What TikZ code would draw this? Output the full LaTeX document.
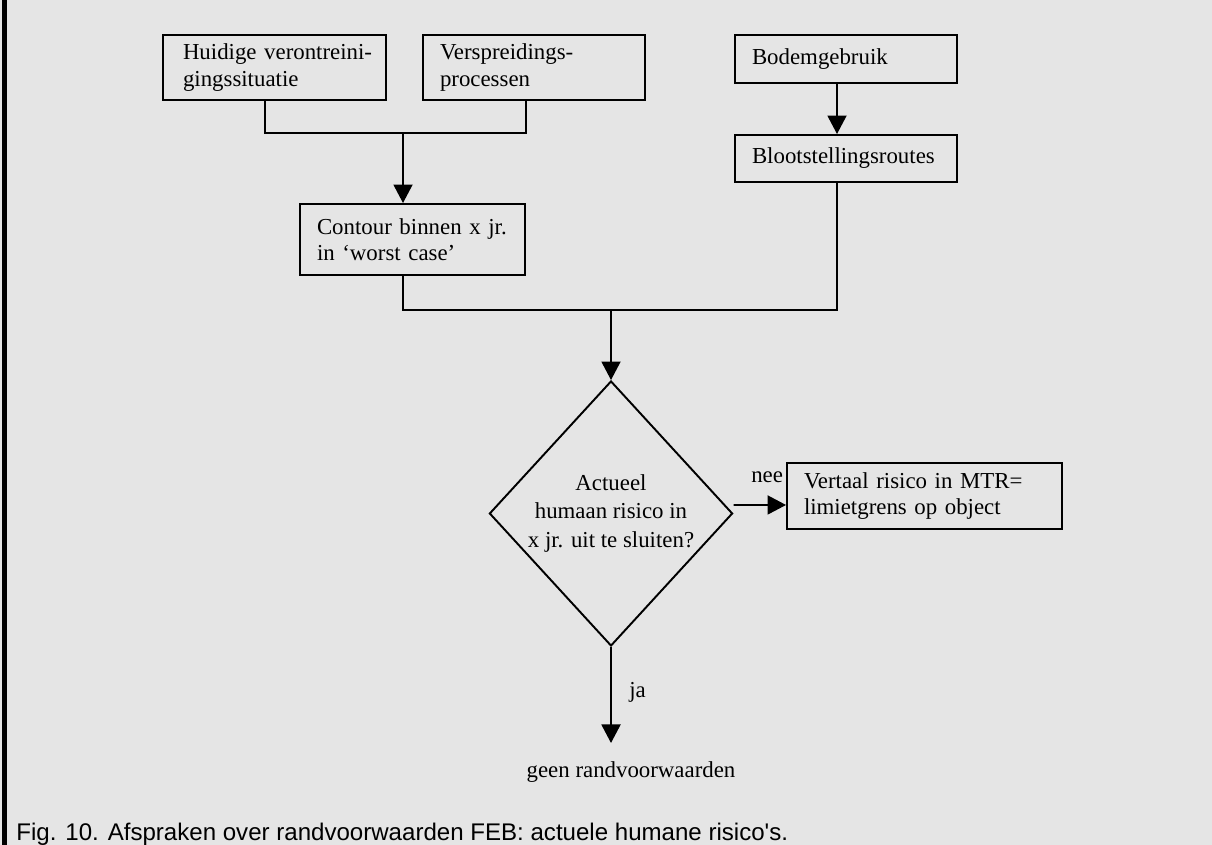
\documentclass[tikz,border=0pt]{standalone}
\usepackage{fontspec}
\setmainfont{Liberation Serif}
\newfontfamily\capfont{Liberation Sans}
\usepackage{tikz}
\usetikzlibrary{arrows.meta,shapes.geometric,calc}

\newcommand\boxfont{\fontsize{13}{15}\selectfont}
\newcommand\diafont{\fontsize{13}{16}\selectfont}

\tikzset{
  stap/.style={draw, line width=1.1pt, text width=#1, align=left, inner xsep=0.34cm, inner ysep=0pt, font=\boxfont},
  stap/.default=3.76cm,
  keuze/.style={draw, shape=diamond, line width=1.1pt, minimum width=4.86cm, minimum height=5.3cm, inner sep=0pt, align=center, font=\diafont},
  lijn/.style={line width=1.1pt},
  pijl/.style={line width=1.1pt, -{Triangle[width=0.38cm,length=0.37cm]}},
}

\begin{document}
\begin{tikzpicture}

\fill[black!10] (0,0) rectangle (24.24,16.9);
\useasboundingbox (0,0) rectangle (24.24,16.9);
\fill[black] (0.04,0) rectangle (0.13,16.9); % linker rand

\node[stap=4.06cm, inner xsep=0.2cm, minimum height=1.3cm] (hui) at (5.49,15.55) {\hspace*{0.2cm}Huidige verontreini-\\\hspace*{0.2cm}gingssituatie};
\node[stap, minimum height=1.3cm] (vsp) at (10.68,15.55) {Verspreidings-\\processen};
\node[stap, minimum height=0.96cm] (bod) at (16.92,15.72) {Bodemgebruik};
\node[stap, minimum height=0.94cm] (bls) at (16.92,13.73) {Blootstellingsroutes};
\node[stap=3.82cm, minimum height=1.42cm] (con) at (8.25,12.11) {Contour binnen x jr.\\in ‘worst case’};
\node[keuze] (dia) at (12.22,6.63) {Actueel\\humaan risico in\\x jr. uit te sluiten?};
\node[stap=4.82cm, minimum height=1.32cm] (vrt) at (18.49,6.98) {Vertaal risico in MTR=\\limietgrens op object};
\node[anchor=base, font=\boxfont] (geen) at (12.62,1.34) {geen randvoorwaarden};

\coordinate (samen) at (8.06,14.24);
\coordinate (samen2) at (12.22,10.7);
\coordinate (jaeind) at (12.22,2.04);

\draw[lijn] ([xshift=-0.19cm]hui.south) |- (samen) -| ([xshift=-0.16cm]vsp.south);
\draw[pijl] (samen) -- ([xshift=-0.19cm]con.north);
\draw[pijl] ([xshift=-0.18cm]bod.south) -- ([xshift=-0.18cm]bls.north);

\draw[lijn] ([xshift=-0.19cm]con.south) |- (samen2) -| ([xshift=-0.18cm]bls.south);
\draw[pijl] (samen2) -- (dia.north);

\draw[pijl] ([yshift=0.17cm]dia.east) -- ([yshift=-0.18cm]vrt.west) node[pos=0.64, above=0.3cm, font=\boxfont] {nee};
\draw[pijl] (dia.south) -- (jaeind) node[pos=0.47, right=0.23cm, font=\boxfont] {ja};

\node[anchor=base west, inner sep=0pt, font=\capfont\fontsize{13.7}{16}\selectfont] (onderschrift) at (0.32,0.08) {Fig. 10. Afspraken over randvoorwaarden FEB: actuele humane risico's.};

\end{tikzpicture}
\end{document}
